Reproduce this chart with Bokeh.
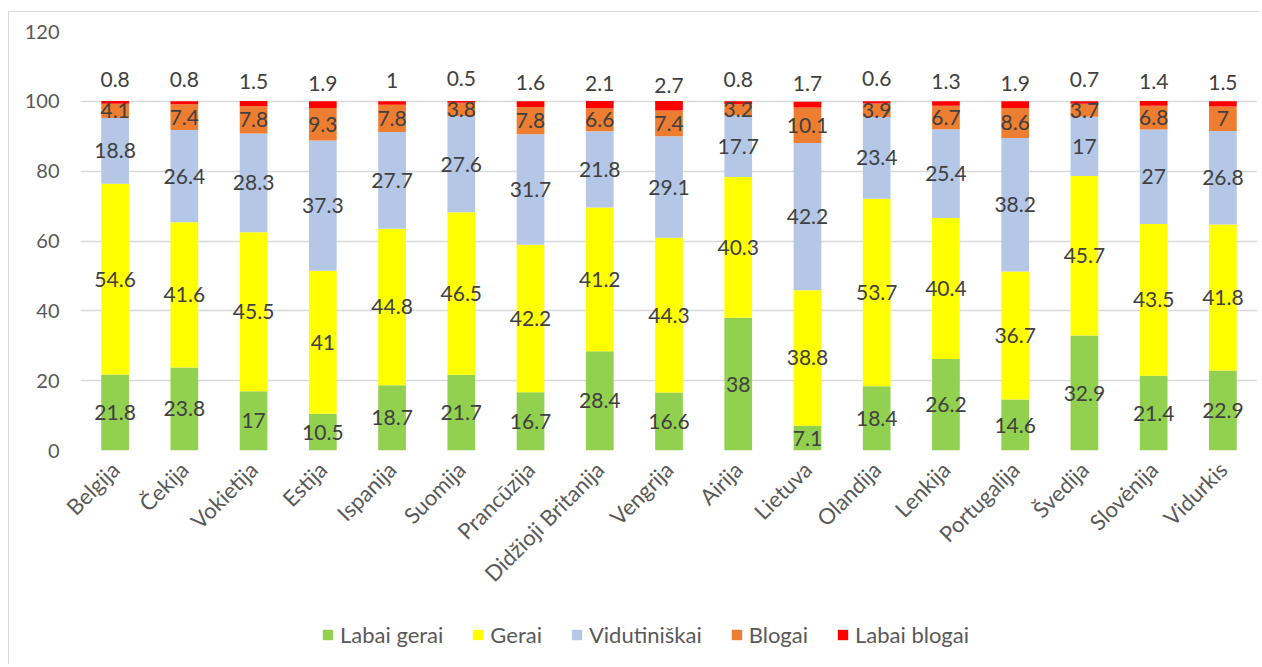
from bokeh.plotting import figure
from bokeh.layouts import column
from bokeh.models import (FactorRange, Range1d, Legend, LegendItem, ColumnDataSource,
                          SingleIntervalTicker)
from bokeh.core.properties import value
from bokeh.embed import file_html
from bokeh.resources import INLINE
import math

countries = ["Belgija", "Čekija", "Vokietija", "Estija", "Ispanija", "Suomija", "Prancūzija",
             "Didžioji Britanija", "Vengrija", "Airija", "Lietuva", "Olandija", "Lenkija",
             "Portugalija", "Švedija", "Slovėnija", "Vidurkis"]
labai_gerai = [21.8, 23.8, 17, 10.5, 18.7, 21.7, 16.7, 28.4, 16.6, 38, 7.1, 18.4, 26.2, 14.6, 32.9, 21.4, 22.9]
gerai = [54.6, 41.6, 45.5, 41, 44.8, 46.5, 42.2, 41.2, 44.3, 40.3, 38.8, 53.7, 40.4, 36.7, 45.7, 43.5, 41.8]
vidutiniskai = [18.8, 26.4, 28.3, 37.3, 27.7, 27.6, 31.7, 21.8, 29.1, 17.7, 42.2, 23.4, 25.4, 38.2, 17, 27, 26.8]
blogai = [4.1, 7.4, 7.8, 9.3, 7.8, 3.8, 7.8, 6.6, 7.4, 3.2, 10.1, 3.9, 6.7, 8.6, 3.7, 6.8, 7]
labai_blogai = [0.8, 0.8, 1.5, 1.9, 1, 0.5, 1.6, 2.1, 2.7, 0.8, 1.7, 0.6, 1.3, 1.9, 0.7, 1.4, 1.5]

series_names = ["Labai gerai", "Gerai", "Vidutiniškai", "Blogai", "Labai blogai"]
series_vals = [labai_gerai, gerai, vidutiniskai, blogai, labai_blogai]
colors = ["#92D050", "#FFFF00", "#B4C7E7", "#ED7D31", "#FF0000"]

FONT = "Lato"
TXT = "#404040"
AX = "#595959"
GRID = "#D9D9D9"

p = figure(x_range=FactorRange(*countries, range_padding=0), y_range=Range1d(0, 120),
           width=1250, height=608, output_backend="svg", toolbar_location=None,
           min_border_left=71, min_border_top=19, min_border_bottom=170, min_border_right=2)
p.outline_line_color = None
p.background_fill_color = "white"

data = {"x": countries}
for nm, v in zip(series_names, series_vals):
    data[nm] = v
src = ColumnDataSource(data)
renderers = p.vbar_stack(series_names, x="x", width=0.4, color=colors, source=src, line_color=None)

# data labels
bottoms = [0.0] * len(countries)
for i, vals in enumerate(series_vals):
    if i < 4:
        ys = [b + v / 2 for b, v in zip(bottoms, vals)]
    else:
        ys = [b + 7 for b in bottoms]
    p.text(x=countries, y=ys, text=[f"{v:g}" for v in vals], text_align="center",
           text_baseline="middle", text_font=value(FONT), text_font_size="21px", text_color=TXT)
    bottoms = [b + v for b, v in zip(bottoms, vals)]

# axes
p.yaxis.ticker = SingleIntervalTicker(interval=20)
p.yaxis.axis_line_color = None
p.yaxis.major_tick_line_color = None
p.yaxis.minor_tick_line_color = None
p.yaxis.major_tick_out = 0
p.yaxis.major_label_standoff = 17
p.yaxis.major_label_text_font = FONT
p.yaxis.major_label_text_font_size = "20px"
p.yaxis.major_label_text_color = AX

p.xaxis.axis_line_color = None
p.xaxis.major_tick_line_color = None
p.xaxis.major_tick_out = 0
p.xaxis.major_label_orientation = math.pi / 4
p.xaxis.major_label_standoff = 15
p.xaxis.major_label_text_font = FONT
p.xaxis.major_label_text_font_size = "22px"
p.xaxis.major_label_text_color = AX

p.xgrid.grid_line_color = None
p.ygrid.grid_line_color = GRID
p.ygrid.grid_line_width = 1.5

# legend strip below the chart (same series; its view window shows no bars, only the legend)
lg = figure(x_range=FactorRange(*countries, range_padding=0), y_range=Range1d(200, 201),
            width=1250, height=44, output_backend="svg", toolbar_location=None, min_border=0,
            x_axis_location=None, y_axis_location=None)
lg.outline_line_color = None
lg.xgrid.grid_line_color = None
lg.ygrid.grid_line_color = None
swatches = lg.vbar_stack(series_names, x="x", width=0.4, color=colors, source=src, line_color=None)
items = [LegendItem(label=nm, renderers=[r]) for nm, r in zip(series_names, swatches)]
legend = Legend(items=items, orientation="horizontal", location=(241, 16),
                glyph_width=13, glyph_height=13, label_standoff=6, spacing=28,
                padding=0, margin=0, border_line_color=None, background_fill_alpha=0,
                label_text_font=FONT, label_text_font_size="22px", label_text_color=AX,
                label_height=22)
lg.add_layout(legend, "center")

layout = column(p, lg, spacing=0,
                styles={"border-left": "1px solid #D9D9D9", "border-top": "1px solid #D9D9D9",
                        "margin-top": "11px", "margin-left": "8px"})

open("out.html", "w").write(file_html(layout, INLINE))
